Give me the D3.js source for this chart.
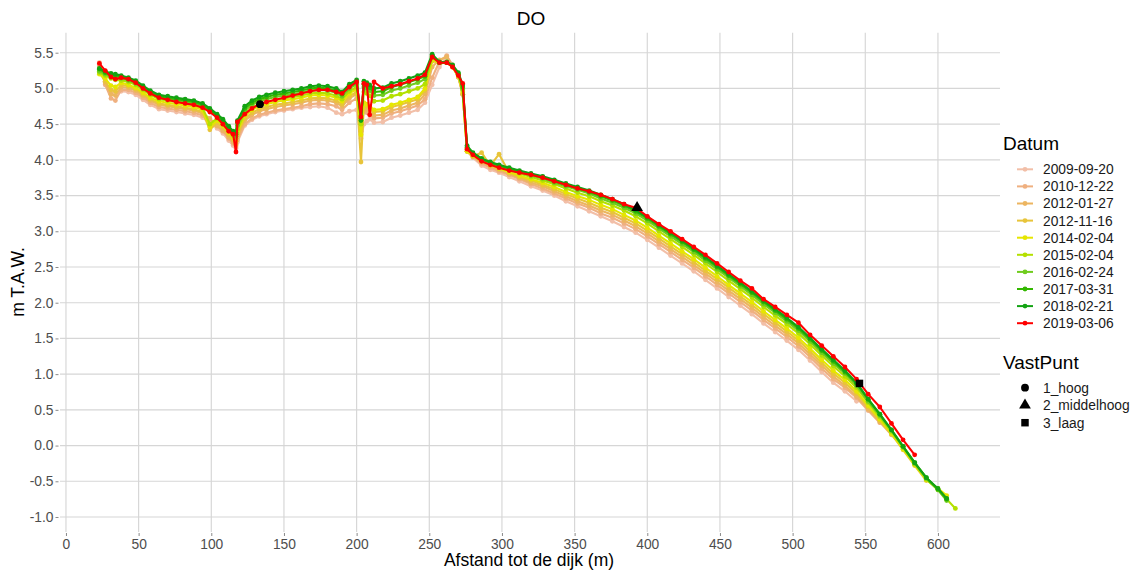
<!DOCTYPE html>
<html><head><meta charset="utf-8">
<script src="https://cdn.jsdelivr.net/npm/d3@7"></script>
<style>
body{margin:0;background:#fff}
svg{font-family:"Liberation Sans",Arial,Helvetica,sans-serif}
</style>
</head><body>
<svg id="chart" width="1135" height="574"></svg>
<script>
// ---------- data ----------
const afstand = [23,27,31,34,38,43,48,53,58,64,
 70,76,82,88,94,99,104,108,112,115,
 117,118,123,128,133,138,144,150,156,162,
 168,174,180,186,190,195,200,203,205,207,
 209,212,218,224,230,236,242,247,252,257,
 262,266,270,273,276,280,286,292,298,305,
 312,320,328,336,344,352,360,368,376,384,
 392,400,408,416,424,432,440,448,456,464,
 472,480,488,496,504,512,520,528,536,544,
 552,560,568,576,584,592,600,606,612];

const datums = ["2009-09-20","2010-12-22","2012-01-27","2012-11-16","2014-02-04",
  "2015-02-04","2016-02-24","2017-03-31","2018-02-21","2019-03-06"];
const kleuren = ["#F2BFA8","#EFB080","#ECB560","#E8C43A","#E6E600",
  "#B4E000","#70CC1E","#33B800","#13A313","#FF0000"];

const h2009 = [5.34,5.10,4.95,4.93,4.96,4.95,4.91,4.84,4.77,4.71,
 4.69,4.67,4.65,4.63,4.59,4.52,4.44,4.37,4.27,4.20,
 4.16,4.25,4.48,4.56,4.61,4.64,4.67,4.69,4.71,4.73,
 4.74,4.75,4.73,4.66,4.64,4.68,4.70,4.30,4.50,4.54,
 4.57,4.52,4.53,4.59,4.62,4.66,4.70,4.80,5.05,5.30,
 5.45,5.33,5.16,4.92,4.12,4.03,3.92,3.86,3.82,3.76,
 3.70,3.63,3.57,3.50,3.42,3.35,3.28,3.21,3.14,3.06,
 2.98,2.88,2.77,2.66,2.55,2.44,2.32,2.20,2.08,1.96,
 1.84,1.71,1.59,1.47,1.34,1.19,1.03,0.88,0.76,0.62,
 null,null,null,null,null,null,null,null,null];
const h2010 = [5.36,5.05,4.86,4.83,4.98,4.98,4.94,4.87,4.80,4.74,
 4.72,4.70,4.68,4.66,4.62,4.55,4.47,4.40,4.30,4.23,
 4.18,4.28,4.50,4.58,4.63,4.66,4.69,4.71,4.73,4.75,
 4.78,4.79,4.78,4.75,4.70,4.80,4.86,4.45,4.68,4.66,
 4.63,4.58,4.59,4.65,4.68,4.72,4.76,4.85,5.15,5.38,
 5.46,5.32,5.16,4.92,4.12,4.04,3.95,3.89,3.84,3.79,
 3.73,3.66,3.60,3.53,3.46,3.39,3.33,3.25,3.19,3.11,
 3.03,2.93,2.82,2.71,2.60,2.49,2.37,2.25,2.13,2.01,
 1.89,1.76,1.64,1.52,1.39,1.24,1.08,0.93,0.81,0.67,
 0.49,0.32,null,null,null,null,null,null,null];
const h2012a = [5.30,5.08,4.92,4.90,5.02,5.01,4.97,4.90,4.83,4.77,
 4.75,4.73,4.71,4.69,4.65,4.58,4.48,4.41,4.32,4.25,
 4.20,4.32,4.55,4.63,4.68,4.71,4.74,4.76,4.78,4.80,
 4.83,4.84,4.83,4.80,4.75,4.86,4.92,4.40,4.72,4.70,
 4.67,4.62,4.63,4.69,4.72,4.76,4.80,4.92,5.30,5.40,
 5.44,5.30,5.16,4.92,4.12,4.05,3.97,3.91,3.86,3.80,
 3.75,3.68,3.63,3.56,3.49,3.42,3.36,3.29,3.23,3.15,
 3.07,2.97,2.86,2.75,2.64,2.53,2.41,2.29,2.17,2.05,
 1.93,1.80,1.68,1.56,1.43,1.28,1.12,0.97,0.84,0.69,
 0.51,0.33,0.15,-0.02,null,null,null,null,null];
const h2012b = [5.22,5.10,4.98,4.96,5.05,5.03,4.99,4.92,4.85,4.79,
 4.77,4.75,4.73,4.71,4.67,4.42,4.52,4.45,4.35,4.28,
 4.22,4.36,4.58,4.66,4.71,4.74,4.77,4.79,4.81,4.83,
 4.86,4.87,4.86,4.83,4.78,4.89,4.95,3.97,4.77,4.75,
 4.72,4.67,4.68,4.74,4.77,4.81,4.85,4.97,5.38,5.36,
 5.37,5.30,5.16,4.92,4.12,4.05,4.10,3.92,4.08,3.82,
 3.76,3.71,3.65,3.59,3.52,3.46,3.40,3.33,3.27,3.19,
 3.11,3.01,2.90,2.79,2.68,2.57,2.45,2.33,2.21,2.09,
 1.97,1.84,1.72,1.60,1.47,1.32,1.16,1.01,0.88,0.73,
 0.54,0.35,0.16,-0.06,-0.28,-0.49,null,null,null];
const h2014 = [5.20,5.14,5.04,5.02,5.08,5.05,5.01,4.94,4.87,4.82,
 4.80,4.78,4.76,4.74,4.70,4.46,4.55,4.48,4.38,4.31,
 4.26,4.40,4.62,4.70,4.75,4.78,4.81,4.83,4.85,4.87,
 4.90,4.91,4.90,4.87,4.82,4.93,4.99,4.35,4.80,4.78,
 4.75,4.70,4.71,4.77,4.80,4.84,4.88,5.00,5.40,5.36,
 5.36,5.30,5.18,4.95,4.12,4.06,3.98,3.93,3.88,3.83,
 3.78,3.73,3.68,3.62,3.55,3.49,3.44,3.37,3.31,3.23,
 3.15,3.05,2.94,2.83,2.72,2.61,2.49,2.37,2.25,2.13,
 2.01,1.88,1.76,1.64,1.51,1.36,1.20,1.05,0.92,0.76,
 0.56,0.37,0.17,-0.05,-0.27,-0.48,-0.60,-0.70,null];
const h2015 = [5.22,5.18,5.14,5.12,5.11,5.09,5.05,4.98,4.91,4.85,
 4.83,4.81,4.79,4.77,4.73,4.50,4.58,4.50,4.41,4.34,
 4.30,4.43,4.65,4.73,4.78,4.81,4.84,4.86,4.88,4.90,
 4.93,4.94,4.93,4.90,4.85,4.96,5.02,4.50,4.95,4.93,
 4.90,4.82,4.83,4.89,4.92,4.96,5.00,5.06,5.43,5.36,
 5.36,5.31,5.20,4.98,4.16,4.08,3.99,3.94,3.90,3.86,
 3.81,3.76,3.71,3.66,3.60,3.54,3.49,3.42,3.36,3.29,
 3.21,3.11,3.00,2.89,2.78,2.67,2.55,2.43,2.31,2.19,
 2.07,1.94,1.82,1.70,1.57,1.42,1.26,1.11,0.97,0.81,
 0.60,0.40,0.19,-0.03,-0.26,-0.47,-0.62,-0.75,-0.88];
const h2016 = [5.24,5.20,5.16,5.15,5.14,5.11,5.07,5.00,4.93,4.87,
 4.85,4.83,4.81,4.79,4.75,4.68,4.60,4.53,4.43,4.36,
 4.33,4.48,4.69,4.77,4.82,4.85,4.88,4.90,4.92,4.94,
 4.97,4.98,4.97,4.94,4.89,5.00,5.06,4.62,5.02,5.00,
 4.97,4.90,4.91,4.97,5.00,5.04,5.08,5.13,5.45,5.36,
 5.36,5.31,5.20,5.00,4.17,4.09,4.01,3.96,3.91,3.87,
 3.83,3.78,3.74,3.68,3.63,3.58,3.53,3.46,3.40,3.33,
 3.25,3.15,3.04,2.93,2.82,2.71,2.59,2.47,2.35,2.23,
 2.11,1.98,1.86,1.74,1.61,1.46,1.30,1.15,1.01,0.84,
 0.62,0.42,0.21,-0.02,-0.25,-0.46,-0.62,-0.77,null];
const h2017 = [5.27,5.22,5.19,5.18,5.16,5.13,5.09,5.02,4.95,4.89,
 4.87,4.85,4.83,4.81,4.77,4.70,4.62,4.55,4.45,4.38,
 4.36,4.52,4.72,4.80,4.85,4.88,4.91,4.93,4.95,4.97,
 5.00,5.01,5.00,4.97,4.92,5.03,5.09,4.58,5.06,5.04,
 5.01,4.95,4.96,5.02,5.05,5.09,5.13,5.17,5.46,5.36,
 5.36,5.31,5.20,5.02,4.18,4.09,4.01,3.96,3.92,3.88,
 3.84,3.80,3.76,3.70,3.65,3.60,3.55,3.49,3.43,3.36,
 3.28,3.18,3.07,2.96,2.85,2.74,2.62,2.50,2.38,2.26,
 2.14,2.01,1.89,1.77,1.64,1.49,1.33,1.18,1.03,0.87,
 0.65,0.44,0.22,-0.01,-0.24,-0.45,-0.61,-0.75,null];
const h2018 = [5.28,5.24,5.21,5.20,5.18,5.15,5.11,5.04,4.97,4.91,
 4.89,4.87,4.85,4.83,4.79,4.72,4.64,4.57,4.47,4.40,
 4.38,4.55,4.75,4.83,4.88,4.91,4.94,4.96,4.98,5.00,
 5.03,5.04,5.03,5.00,4.95,5.06,5.12,4.55,5.10,5.08,
 5.05,5.00,5.01,5.07,5.10,5.14,5.18,5.22,5.48,5.37,
 5.37,5.33,5.22,5.05,4.20,4.10,4.02,3.97,3.93,3.89,
 3.85,3.81,3.77,3.72,3.67,3.62,3.57,3.51,3.45,3.38,
 3.30,3.20,3.09,2.98,2.87,2.76,2.64,2.52,2.40,2.28,
 2.16,2.03,1.91,1.79,1.66,1.51,1.35,1.20,1.05,0.88,
 0.65,0.44,0.22,-0.01,-0.24,-0.45,-0.60,-0.74,null];
const h2019 = [5.35,5.25,5.16,5.13,5.15,5.13,5.08,5.00,4.93,4.87,
 4.84,4.81,4.79,4.77,4.73,4.67,4.59,4.50,4.40,4.36,
 4.11,4.53,4.64,4.72,4.78,4.81,4.84,4.87,4.90,4.93,
 4.96,4.98,4.98,4.95,4.93,5.02,5.09,4.60,5.07,5.05,
 4.63,5.09,5.00,5.03,5.06,5.10,5.14,5.19,5.44,5.36,
 5.36,5.30,5.18,5.07,4.15,4.07,3.98,3.93,3.89,3.85,
 3.82,3.79,3.75,3.70,3.65,3.60,3.56,3.51,3.45,3.38,
 3.33,3.21,3.10,3.00,2.89,2.78,2.67,2.55,2.43,2.31,
 2.20,2.05,1.94,1.83,1.72,1.55,1.40,1.25,1.10,0.93,
 0.72,0.54,0.31,0.08,-0.13,null,null,null,null];

const hoogtes = [h2009,h2010,h2012a,h2012b,h2014,h2015,h2016,h2017,h2018,h2019];

const vastPuntNamen = ["1_hoog","2_middelhoog","3_laag"];
const vastPuntX = [133.5, 393, 546];
const vastPuntY = [4.78, 3.33, 0.87];

const xTicks = [0,50,100,150,200,250,300,350,400,450,500,550,600];
const yTicks = [-1.0,-0.5,0.0,0.5,1.0,1.5,2.0,2.5,3.0,3.5,4.0,4.5,5.0,5.5];

// ---------- chart ----------
const svg = d3.select("#chart");
const P = {l:60, r:1000, t:32.7, b:532};
const x = d3.scaleLinear().domain([-4.1, 642.7]).range([P.l, P.r]);
const y = d3.scaleLinear().domain([-1.21, 5.78]).range([P.b, P.t]);

const grid = svg.append("g");
grid.selectAll("line.h").data(yTicks).join("line")
  .attr("x1", P.l).attr("x2", P.r).attr("y1", d=>y(d)).attr("y2", d=>y(d))
  .attr("stroke", "#d6d6d6").attr("stroke-width", 1.15);
grid.selectAll("line.v").data(xTicks).join("line")
  .attr("y1", P.t).attr("y2", P.b).attr("x1", d=>x(d)).attr("x2", d=>x(d))
  .attr("stroke", "#d6d6d6").attr("stroke-width", 1.15);

// axes
const yAxis = svg.append("g").attr("transform", `translate(${P.l-1.5},0)`)
  .call(d3.axisLeft(y).tickValues(yTicks).tickFormat(d=>d.toFixed(1)).tickSize(3).tickPadding(2));
const xAxis = svg.append("g").attr("transform", `translate(0,${P.b+1})`)
  .call(d3.axisBottom(x).tickValues(xTicks).tickFormat(d=>String(d)).tickSize(3).tickPadding(3));
[yAxis, xAxis].forEach(a=>{
  a.select(".domain").remove();
  a.selectAll(".tick line").attr("stroke", "#8a8a8a");
  a.selectAll(".tick text").attr("fill", "#4d4d4d").style("font-size", "13.8px")
   .style("font-family", '"Liberation Sans",Arial,sans-serif');
});

// series
const line = d3.line().defined(d=>d[1]!=null).x(d=>x(d[0])).y(d=>y(d[1]));
hoogtes.forEach((vals, i) => {
  const pts = afstand.map((a, j) => [a, vals[j]]);
  const g = svg.append("g");
  g.append("path").datum(pts).attr("d", line).attr("fill", "none")
    .attr("stroke", kleuren[i]).attr("stroke-width", 2.1).attr("stroke-linejoin", "round");
  g.selectAll("circle").data(pts.filter(p=>p[1]!=null)).join("circle")
    .attr("cx", p=>x(p[0])).attr("cy", p=>y(p[1])).attr("r", 2.4).attr("fill", kleuren[i]);
});

// fixed points
const shapes = [d3.symbolCircle, d3.symbolTriangle, d3.symbolSquare];
const sizes = [48, 60, 56];
vastPuntNamen.forEach((n, i) => {
  svg.append("path").attr("d", d3.symbol(shapes[i], sizes[i])())
    .attr("transform", `translate(${x(vastPuntX[i])},${y(vastPuntY[i])})`).attr("fill", "#000");
});

// titles
svg.append("text").attr("x", 531).attr("y", 25).attr("text-anchor", "middle")
  .style("font-size", "19px").attr("fill", "#000").text("DO");
svg.append("text").attr("x", 529).attr("y", 566).attr("text-anchor", "middle")
  .style("font-size", "17.5px").attr("fill", "#000").text("Afstand tot de dijk (m)");
svg.append("text").attr("transform", "translate(24,282) rotate(-90)").attr("text-anchor", "middle")
  .style("font-size", "17.5px").attr("fill", "#000").text("m T.A.W.");

// legend
const lg = svg.append("g");
lg.append("text").attr("x", 1003).attr("y", 150).style("font-size", "19px").text("Datum");
datums.forEach((d, i) => {
  const cy = 169.3 + i*17.1;
  lg.append("line").attr("x1", 1017).attr("x2", 1033).attr("y1", cy).attr("y2", cy)
    .attr("stroke", kleuren[i]).attr("stroke-width", 2);
  lg.append("circle").attr("cx", 1025).attr("cy", cy).attr("r", 2.4).attr("fill", kleuren[i]);
  lg.append("text").attr("x", 1043).attr("y", cy+4.9).style("font-size", "13.8px").attr("fill", "#1a1a1a").text(d);
});
lg.append("text").attr("x", 1003).attr("y", 369).style("font-size", "19px").text("VastPunt");
vastPuntNamen.forEach((n, i) => {
  const cy = 387.7 + i*17.5;
  lg.append("path").attr("d", d3.symbol(shapes[i], sizes[i])())
    .attr("transform", `translate(1025,${cy})`).attr("fill", "#000");
  lg.append("text").attr("x", 1043).attr("y", cy+4.9).style("font-size", "13.8px").attr("fill", "#1a1a1a").text(n);
});
</script>
</body></html>
